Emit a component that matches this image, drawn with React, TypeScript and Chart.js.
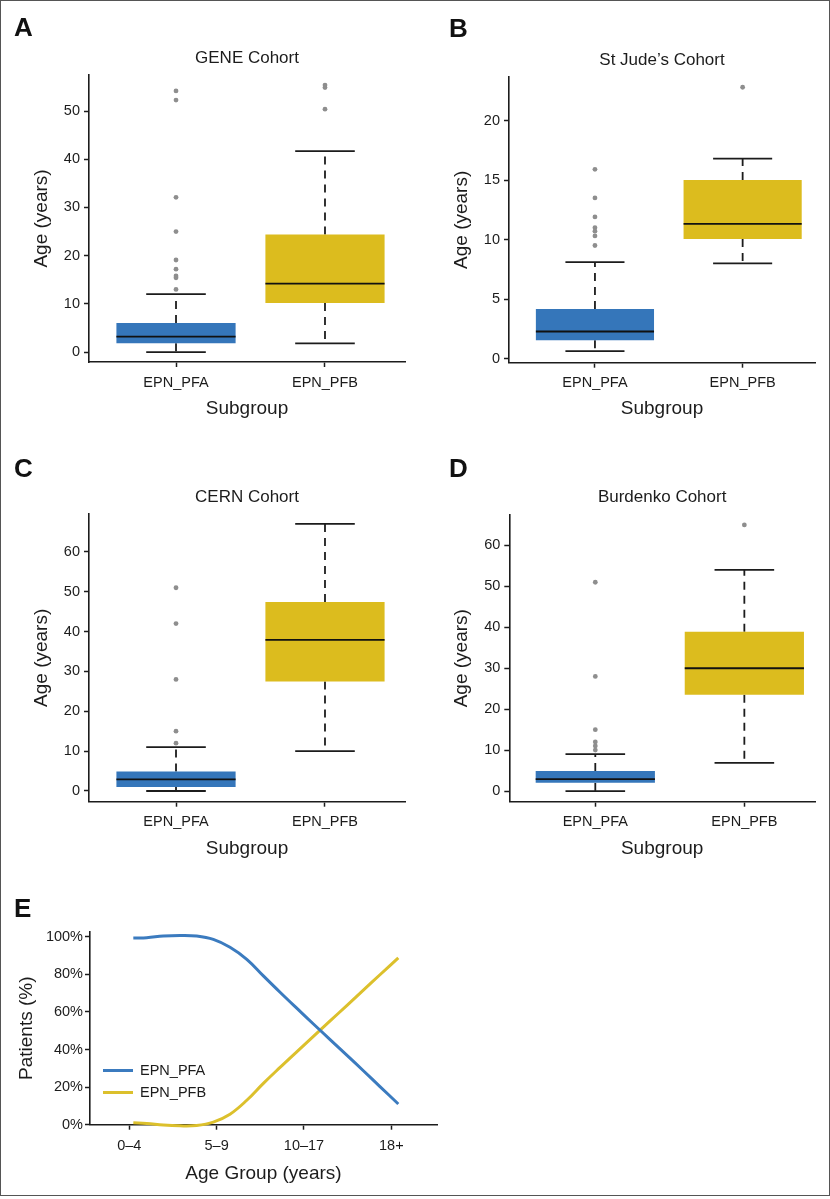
import React, { useEffect, useRef } from 'react';
import { Chart, registerables } from 'chart.js';

Chart.register(...registerables);

const FONT = "'Liberation Sans', Arial, Helvetica, sans-serif";
const INK = '#1c1c1c';
const BLUE = '#3576BA';
const YELLOW = '#DCBC1E';
const LINE_BLUE = '#3B7BBF';
const LINE_YELLOW = '#DCC02C';
const DOT = '#8e8e8e';

Chart.defaults.font.family = FONT;
Chart.defaults.color = INK;

// ---------- data ----------
const subgroups = ['EPN_PFA', 'EPN_PFB'];

// A: GENE Cohort
const geneLow = [0, 1.8];
const geneQ1 = [1.8, 10.2];
const geneMedian = [3.2, 14.2];
const geneQ3 = [6.0, 24.4];
const geneHigh = [12.0, 41.7];
const geneOutPFA = [54.2, 52.3, 32.1, 25.0, 19.1, 17.2, 15.8, 15.4, 13.0];
const geneOutPFB = [55.4, 54.9, 50.4];
const geneTicks = [0, 10, 20, 30, 40, 50];

// B: St Jude's Cohort
const judeLow = [0.62, 8.0];
const judeQ1 = [1.54, 10.04];
const judeMedian = [2.27, 11.32];
const judeQ3 = [4.17, 15.0];
const judeHigh = [8.1, 16.8];
const judeOutPFA = [15.9, 13.5, 11.9, 11.0, 10.7, 10.3, 9.5];
const judeOutPFB = [22.8];
const judeTicks = [0, 5, 10, 15, 20];

// C: CERN Cohort
const cernLow = [0, 10];
const cernQ1 = [1.0, 27.5];
const cernMedian = [2.9, 37.9];
const cernQ3 = [4.9, 47.4];
const cernHigh = [11, 67];
const cernOutPFA = [51, 42, 28, 15, 12];
const cernOutPFB: number[] = [];
const cernTicks = [0, 10, 20, 30, 40, 50, 60];

// D: Burdenko Cohort
const burdLow = [0, 6.9];
const burdQ1 = [2.0, 23.5];
const burdMedian = [2.9, 30.0];
const burdQ3 = [4.9, 38.9];
const burdHigh = [9, 54];
const burdOutPFA = [51, 28, 15, 12, 11, 10];
const burdOutPFB = [65];
const burdTicks = [0, 10, 20, 30, 40, 50, 60];

// E: subgroup share by age group
const ageGroups = ['0–4', '5–9', '10–17', '18+'];
const ageX = [1.046, 1.199, 1.39, 1.58, 1.77, 1.962, 2.153, 2.345, 2.535, 2.726, 2.917, 3.108, 3.299, 3.49, 3.68, 3.87, 4.08];
const pfaPct = [99.4, 99.5, 100.4, 100.7, 100.4, 98.6, 94.4, 88.0, 79.2, 70.5, 62.0, 53.6, 45.3, 37.0, 28.7, 20.3, 11.0];
const pfbPct = [1.0, 0.7, -0.2, -0.6, -0.4, 1.4, 5.6, 13.0, 22.0, 30.5, 38.8, 47.0, 55.2, 63.4, 71.6, 79.8, 88.8];
const pctTicks = [0, 20, 40, 60, 80, 100];

// ---------- cohorts (built from arrays) ----------
type Cohort = {
  title: string; low: number[]; q1: number[]; med: number[]; q3: number[]; high: number[];
  outA: number[]; outB: number[]; yTicks: number[]; yMin: number; yMax: number;
};
const cohorts: Record<string, Cohort> = {
  A: { title: 'GENE Cohort', low: geneLow, q1: geneQ1, med: geneMedian, q3: geneQ3, high: geneHigh, outA: geneOutPFA, outB: geneOutPFB, yTicks: geneTicks, yMin: -2.07, yMax: 57.5 },
  B: { title: 'St Jude’s Cohort', low: judeLow, q1: judeQ1, med: judeMedian, q3: judeQ3, high: judeHigh, outA: judeOutPFA, outB: judeOutPFB, yTicks: judeTicks, yMin: -0.35, yMax: 23.66 },
  C: { title: 'CERN Cohort', low: cernLow, q1: cernQ1, med: cernMedian, q3: cernQ3, high: cernHigh, outA: cernOutPFA, outB: cernOutPFB, yTicks: cernTicks, yMin: -2.69, yMax: 69.5 },
  D: { title: 'Burdenko Cohort', low: burdLow, q1: burdQ1, med: burdMedian, q3: burdQ3, high: burdHigh, outA: burdOutPFA, outB: burdOutPFB, yTicks: burdTicks, yMin: -2.6, yMax: 67.5 },
};

// ---------- layout ----------
type Frame = {
  left: number; top: number; width: number; height: number;
  areaL: number; areaT: number; areaR: number; areaB: number;
  titleY: number; xTitleY: number; yTitleX: number; xMin: number; xMax: number;
};
const frames: Record<string, Frame> = {
  A: { left: 0, top: 0, width: 415, height: 440, areaL: 89, areaT: 75, areaR: 405, areaB: 362, titleY: 58, xTitleY: 409, yTitleX: 42, xMin: 0.416, xMax: 2.537 },
  B: { left: 415, top: 0, width: 415, height: 440, areaL: 94, areaT: 77, areaR: 400, areaB: 362.7, titleY: 60.7, xTitleY: 409, yTitleX: 47, xMin: 0.418, xMax: 2.49 },
  C: { left: 0, top: 440, width: 415, height: 440, areaL: 89, areaT: 74, areaR: 405, areaB: 361.7, titleY: 57.3, xTitleY: 409, yTitleX: 42, xMin: 0.416, xMax: 2.537 },
  D: { left: 415, top: 440, width: 415, height: 440, areaL: 94.3, areaT: 74.7, areaR: 400, areaB: 361.7, titleY: 57.3, xTitleY: 409, yTitleX: 47, xMin: 0.423, xMax: 2.474 },
};

const AXIS_TITLE = 19;
const TICK_FONT = 14.5;

const boxPlugin = {
  id: 'boxWhiskers',
  beforeDatasetsDraw(chart: any, _args: any, opts: any) {
    if (!opts || !opts.low) return;
    const meta = chart.getDatasetMeta(0);
    const ys = chart.scales.y;
    const ctx = chart.ctx;
    ctx.save();
    ctx.strokeStyle = INK;
    ctx.lineWidth = 1.8;
    meta.data.forEach((bar: any, i: number) => {
      const x = bar.x;
      const hw = bar.width / 2;
      const pQ1 = ys.getPixelForValue(opts.q1[i]);
      const pQ3 = ys.getPixelForValue(opts.q3[i]);
      const pLow = ys.getPixelForValue(opts.low[i]);
      const pHigh = ys.getPixelForValue(opts.high[i]);
      ctx.setLineDash([8, 6]);
      ctx.beginPath();
      ctx.moveTo(x, pQ3);
      ctx.lineTo(x, pHigh);
      ctx.stroke();
      ctx.beginPath();
      ctx.moveTo(x, pQ1);
      ctx.lineTo(x, pLow);
      ctx.stroke();
      ctx.setLineDash([]);
      ctx.beginPath();
      ctx.moveTo(x - hw / 2, pHigh);
      ctx.lineTo(x + hw / 2, pHigh);
      ctx.moveTo(x - hw / 2, pLow);
      ctx.lineTo(x + hw / 2, pLow);
      ctx.stroke();
    });
    ctx.restore();
  },
  afterDatasetsDraw(chart: any, _args: any, opts: any) {
    if (!opts || !opts.med) return;
    const meta = chart.getDatasetMeta(0);
    const ys = chart.scales.y;
    const ctx = chart.ctx;
    ctx.save();
    ctx.strokeStyle = '#111';
    ctx.lineWidth = 1.8;
    meta.data.forEach((bar: any, i: number) => {
      const p = ys.getPixelForValue(opts.med[i]);
      ctx.beginPath();
      ctx.moveTo(bar.x - bar.width / 2, p);
      ctx.lineTo(bar.x + bar.width / 2, p);
      ctx.stroke();
    });
    ctx.restore();
  },
};

function BoxPanel({ id }: { id: string }) {
  const ref = useRef<HTMLCanvasElement>(null);
  const F = frames[id];
  useEffect(() => {
    const c = cohorts[id];
    const chart = new Chart(ref.current as HTMLCanvasElement, {
      type: 'bar',
      data: {
        datasets: [
          {
            type: 'bar',
            data: subgroups.map((_, i) => ({ x: i + 1, y: [c.q1[i], c.q3[i]] })) as any,
            backgroundColor: [BLUE, YELLOW],
            borderWidth: 0,
            barPercentage: 0.8,
            categoryPercentage: 1,
            order: 2,
          } as any,
          {
            type: 'scatter',
            data: [...c.outA.map((v) => ({ x: 1, y: v })), ...c.outB.map((v) => ({ x: 2, y: v }))],
            pointRadius: 2.4,
            pointBackgroundColor: DOT,
            pointBorderWidth: 0,
            order: 1,
          } as any,
        ],
      },
      options: {
        responsive: false,
        animation: false,
        devicePixelRatio: 1,
        events: [],
        layout: { padding: { left: 0, right: F.width - F.areaR, top: 0, bottom: 0 } },
        plugins: {
          legend: { display: false },
          tooltip: { enabled: false },
          title: {
            display: true,
            text: c.title,
            fullSize: false,
            color: INK,
            font: { size: 17, weight: 'normal', family: FONT },
            padding: { top: F.titleY - 10.2, bottom: F.areaT - F.titleY - 10.2 },
          },
          boxWhiskers: { low: c.low, q1: c.q1, med: c.med, q3: c.q3, high: c.high },
        } as any,
        scales: {
          x: {
            type: 'linear',
            min: F.xMin,
            max: F.xMax,
            offset: false,
            afterBuildTicks: (s: any) => { s.ticks = subgroups.map((_, i) => ({ value: i + 1 })); },
            afterFit: (s: any) => { s.height = F.height - F.areaB; },
            ticks: {
              autoSkip: false, maxRotation: 0, padding: 7, color: INK,
              font: { size: TICK_FONT },
              callback: (v: any) => subgroups[Math.round(Number(v)) - 1] ?? '',
            },
            grid: { display: true, drawOnChartArea: false, drawTicks: true, tickLength: 5, tickWidth: 1.5, tickColor: INK, offset: false },
            border: { display: true, color: INK, width: 1.6 },
            title: { display: true, text: 'Subgroup', color: INK, font: { size: AXIS_TITLE }, padding: { top: 0, bottom: F.height - F.xTitleY - AXIS_TITLE * 0.6 } },
          },
          y: {
            type: 'linear',
            min: c.yMin,
            max: c.yMax,
            afterBuildTicks: (s: any) => { s.ticks = c.yTicks.map((v) => ({ value: v })); },
            afterFit: (s: any) => { s.width = F.areaL; },
            ticks: { padding: 4, color: INK, font: { size: TICK_FONT } },
            grid: { display: true, drawOnChartArea: false, drawTicks: true, tickLength: 5, tickWidth: 1.5, tickColor: INK },
            border: { display: true, color: INK, width: 1.6 },
            title: { display: true, text: 'Age (years)', color: INK, font: { size: AXIS_TITLE }, padding: { top: F.yTitleX - AXIS_TITLE * 0.6, bottom: 0 } },
          },
        } as any,
      },
      plugins: [boxPlugin as any],
    });
    return () => chart.destroy();
  }, []);
  return (
    <canvas
      ref={ref}
      width={F.width}
      height={F.height}
      style={{ position: 'absolute', left: F.left, top: F.top, width: F.width, height: F.height }}
    />
  );
}

const frameE = { left: 0, top: 880, width: 450, height: 319, areaL: 90, areaT: 51.7, areaR: 437, areaB: 244.7, xTitleY: 293.3, yTitleX: 26.7, xMin: 0.55, xMax: 4.523 };

function LinePanel() {
  const ref = useRef<HTMLCanvasElement>(null);
  const F = frameE;
  useEffect(() => {
    const chart = new Chart(ref.current as HTMLCanvasElement, {
      type: 'line',
      data: {
        datasets: [
          {
            label: 'EPN_PFA',
            data: ageX.map((x, i) => ({ x, y: pfaPct[i] })),
            borderColor: LINE_BLUE,
            borderWidth: 3,
            pointRadius: 0,
            tension: 0.4,
            clip: false,
          } as any,
          {
            label: 'EPN_PFB',
            data: ageX.map((x, i) => ({ x, y: pfbPct[i] })),
            borderColor: LINE_YELLOW,
            borderWidth: 3,
            pointRadius: 0,
            tension: 0.4,
            clip: false,
          } as any,
        ],
      },
      options: {
        responsive: false,
        animation: false,
        devicePixelRatio: 1,
        events: [],
        layout: { padding: { left: 0, right: F.width - F.areaR, top: F.areaT, bottom: 0 } },
        plugins: { legend: { display: false }, tooltip: { enabled: false }, title: { display: false } },
        scales: {
          x: {
            type: 'linear',
            min: F.xMin,
            max: F.xMax,
            afterBuildTicks: (s: any) => { s.ticks = ageGroups.map((_, i) => ({ value: i + 1 })); },
            afterFit: (s: any) => { s.height = F.height - F.areaB; },
            ticks: {
              autoSkip: false, maxRotation: 0, padding: 8, color: INK, font: { size: TICK_FONT },
              callback: (v: any) => ageGroups[Math.round(Number(v)) - 1] ?? '',
            },
            grid: { display: true, drawOnChartArea: false, drawTicks: true, tickLength: 5, tickWidth: 1.5, tickColor: INK },
            border: { display: true, color: INK, width: 1.6 },
            title: { display: true, text: 'Age Group (years)', color: INK, font: { size: AXIS_TITLE }, padding: { top: 0, bottom: F.height - F.xTitleY - AXIS_TITLE * 0.6 } },
          },
          y: {
            type: 'linear',
            min: 0,
            max: 102.7,
            afterBuildTicks: (s: any) => { s.ticks = pctTicks.map((v) => ({ value: v })); },
            afterFit: (s: any) => { s.width = F.areaL; },
            ticks: { padding: 2, color: INK, font: { size: TICK_FONT }, callback: (v: any) => `${v}%` },
            grid: { display: true, drawOnChartArea: false, drawTicks: true, tickLength: 5, tickWidth: 1.5, tickColor: INK },
            border: { display: true, color: INK, width: 1.6 },
            title: { display: true, text: 'Patients (%)', color: INK, font: { size: AXIS_TITLE }, padding: { top: F.yTitleX - AXIS_TITLE * 0.6, bottom: 0 } },
          },
        } as any,
      },
    });
    return () => chart.destroy();
  }, []);
  return (
    <canvas
      ref={ref}
      width={F.width}
      height={F.height}
      style={{ position: 'absolute', left: F.left, top: F.top, width: F.width, height: F.height }}
    />
  );
}

const letterStyle = (left: number, top: number): React.CSSProperties => ({
  position: 'absolute', left, top, fontFamily: FONT, fontWeight: 'bold', fontSize: 26, lineHeight: '26px', color: '#111',
});

const legendItems = [
  { label: 'EPN_PFA', color: LINE_BLUE, y: 1070 },
  { label: 'EPN_PFB', color: LINE_YELLOW, y: 1092.3 },
];

export default function App() {
  return (
    <div style={{ position: 'absolute', left: 0, top: 0, width: 830, height: 1199, background: '#fff', overflow: 'hidden' }}>
      <BoxPanel id="A" />
      <BoxPanel id="B" />
      <BoxPanel id="C" />
      <BoxPanel id="D" />
      <LinePanel />
      <div style={letterStyle(14, 13.6)}>A</div>
      <div style={letterStyle(449, 14.6)}>B</div>
      <div style={letterStyle(14, 454.6)}>C</div>
      <div style={letterStyle(449, 454.6)}>D</div>
      <div style={letterStyle(14, 894.6)}>E</div>
      {legendItems.map((it) => (
        <React.Fragment key={it.label}>
          <div style={{ position: 'absolute', left: 103, top: it.y - 1.5, width: 30, height: 3, background: it.color }} />
          <div style={{ position: 'absolute', left: 140, top: it.y - 10, height: 20, lineHeight: '20px', fontFamily: FONT, fontSize: TICK_FONT, color: INK }}>{it.label}</div>
        </React.Fragment>
      ))}
      <div style={{ position: 'absolute', left: 0, top: 0, width: 830, height: 1196, border: '1.5px solid #555', boxSizing: 'border-box', pointerEvents: 'none' }} />
    </div>
  );
}
